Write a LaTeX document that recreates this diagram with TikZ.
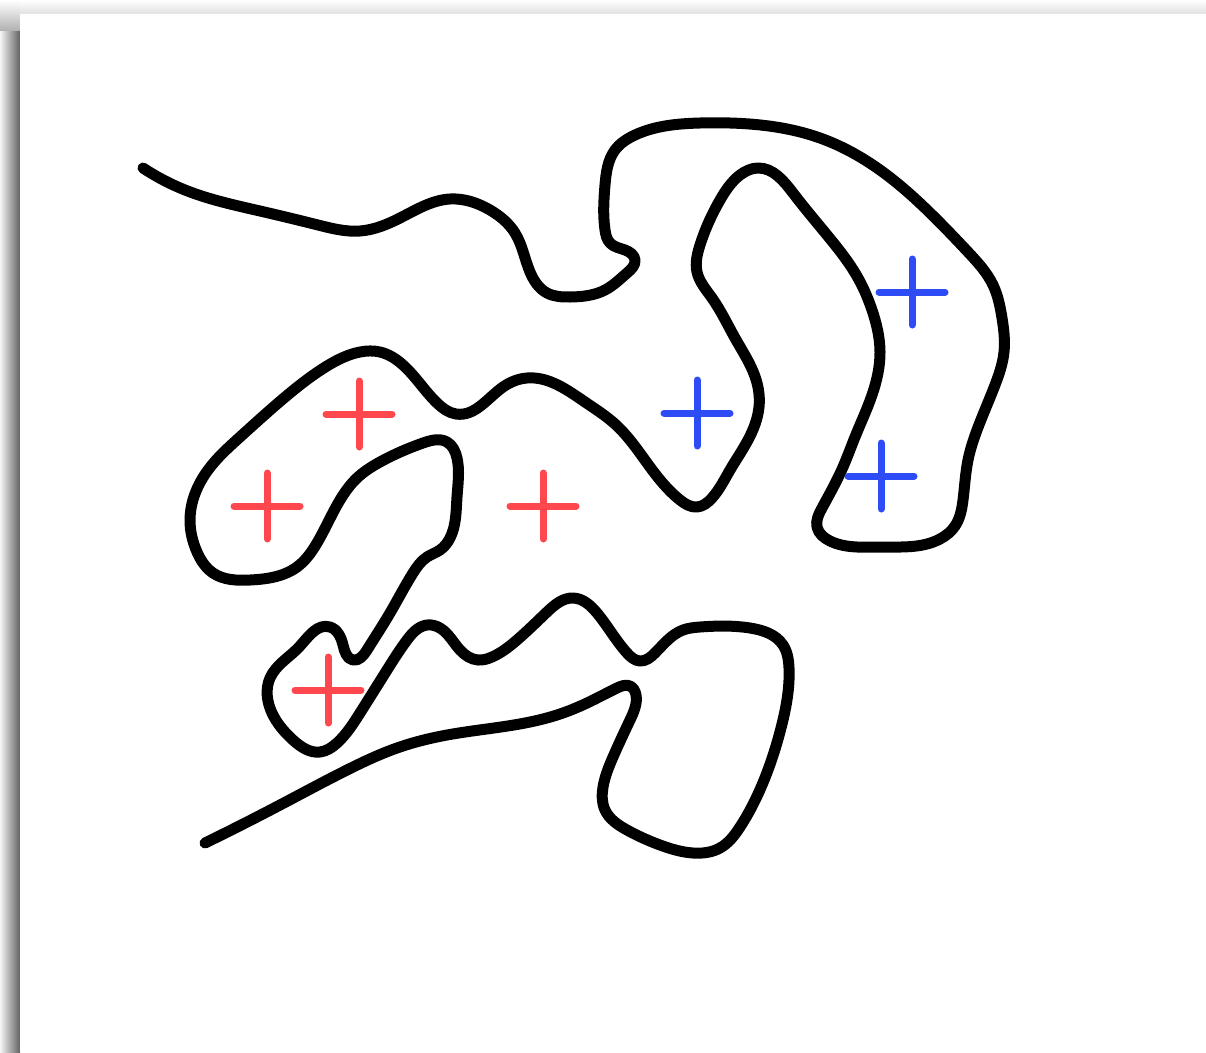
\documentclass[tikz,border=0pt]{standalone}
\usetikzlibrary{shadings,hobby}
\definecolor{crossred}{RGB}{255,72,78}
\definecolor{crossblue}{RGB}{46,76,246}
\tikzset{
  curveline/.style={line width=11pt, line cap=round, line join=round, black},
  pluspic/.pic={\draw (-33,0)--(33,0) (0,-33)--(0,33);},
  redcross/.style={line width=7pt, line cap=round, crossred},
  bluecross/.style={line width=7pt, line cap=round, crossblue}
}
\begin{document}
\begin{tikzpicture}[x=1pt,y=-1pt]
\useasboundingbox (0,0) rectangle (1206,1052);
\fill[white] (0,0) rectangle (1206,1052);
% page shadow
\shade[top color=white, bottom color=black!12] (20,0) rectangle (1206,14);
\shade[left color=black!4, right color=black!62] (0,30) rectangle (20,1052);
\shade[top color=white, bottom color=black!30] (0,0) rectangle (20,30);
\fill[white] (20,14) rectangle (1206,1052);
% the long curve
\draw[curveline, use Hobby shortcut]
(143,168) .. (185,190) .. (260,211) .. (318,225) .. (360,231) .. (400,218) .. (450,199) ..
(490,210) .. (515,233) .. (530,272) .. (547,293) .. (570,297) .. (605,290) .. (627,273) ..
(635,260) .. (625,250) .. (610,243) .. (605,230) .. (605,185) .. (615,150) .. (635,135) ..
(700,123) .. (730,123) .. (820,138) .. (880,170) .. (925,208) .. (968,252) .. (993,285) ..
(1002,318) .. (1004,352) .. (995,385) .. (977,430) .. (968,460) .. (963,500) .. (955,526) ..
(940,539) .. (880,547) .. (830,541) .. (817,527) .. (822,508) .. (843,467) .. (855,437) ..
(872,395) .. (880,352) .. (872,310) .. (858,278) .. (827,235) .. (793,193) ..
(758,168) .. (740,175) .. (720,200) .. (700,245) .. (697,272) .. (712,298) .. (735,338) ..
(757,383) .. (759,407) .. (748,440) .. (730,470) .. (712,498) .. (697,507) .. (680,500) ..
(650,467) .. (615,424) .. (585,402) .. (527,378) .. (503,387) ..
(456,414) .. (437,403) .. (403,365) .. (380,352) .. (360,352) .. (327,366) .. (290,393) ..
(240,437) .. (208,470) .. (190,520) .. (197,552) .. (213,573) .. (250,580) .. (297,567) ..
(317,543) .. (340,500) .. (357,478) .. (380,462) .. (423,443) .. (447,442) .. (457,458) ..
(457,497) .. (450,538) .. (440,550) .. (427,557) .. (413,573) .. (390,613) .. (367,650) ..
(353,660) .. (343,645) .. (330,627) .. (300,646) .. (270,678) ..
(272,713) .. (293,740) .. (320,752) .. (337,743) .. (360,713) .. (387,670) .. (407,640) ..
(427,625) .. (440,628) .. (460,650) .. (478,660) .. (492,657) .. (517,640) .. (547,612) ..
(573,598) .. (597,613) .. (627,653) .. (640,661) .. (655,653) .. (683,630) .. (700,627) ..
(750,628) .. (783,645) .. (789,668) .. (781,728) .. (762,785) .. (740,827) .. (720,848) ..
(693,853) .. (660,845) .. (627,830) .. (605,810) .. (603,787) .. (613,757) .. (630,720) ..
(636,695) .. (630,686) .. (617,688) .. (587,703) .. (560,714) .. (530,722) .. (447,735) ..
(397,748) .. (347,770) .. (280,805) .. (205,843);
% red crosses
\pic[redcross] (r1) at (359,414) {pluspic};
\pic[redcross] (r2) at (267,506) {pluspic};
\pic[redcross] (r3) at (543,506) {pluspic};
\pic[redcross] (r4) at (328,690) {pluspic};
% blue crosses
\pic[bluecross] (b1) at (912,292) {pluspic};
\pic[bluecross] (b2) at (697,413) {pluspic};
\pic[bluecross] (b3) at (881,476) {pluspic};
\end{tikzpicture}
\end{document}
